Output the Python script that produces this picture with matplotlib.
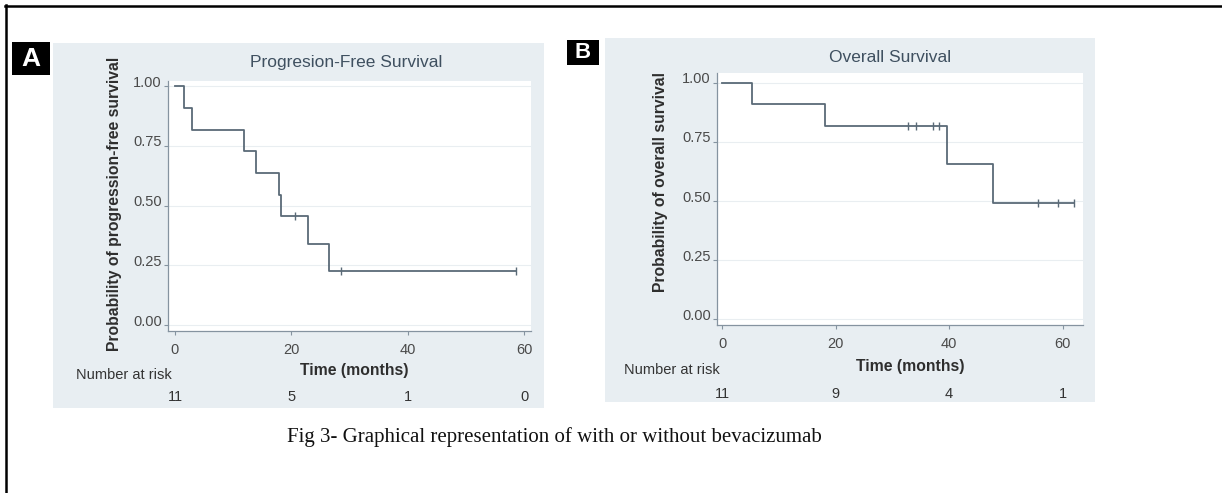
import matplotlib
matplotlib.use("Agg")
import matplotlib.pyplot as plt
from matplotlib.patches import Rectangle
from matplotlib.lines import Line2D
import matplotlib.transforms as mtransforms

# Panel A: progression-free survival, steps
pfs_times = [0, 1.6, 2.9, 11.9, 14.0, 17.8, 18.2, 22.8, 26.5, 58.7]
pfs_surv = [1.0, 0.909, 0.818, 0.727, 0.636, 0.545, 0.455, 0.341, 0.227, 0.227]
pfs_cens_t = [20.6, 28.6, 58.7]
pfs_cens_s = [0.455, 0.227, 0.227]

# Panel B: overall survival
os_times = [0, 5.2, 18.1, 39.6, 47.8, 62.1]
os_surv = [1.0, 0.909, 0.818, 0.655, 0.491, 0.491]
os_cens_t = [32.8, 34.2, 37.2, 38.3, 55.6, 59.2, 62.1]
os_cens_s = [0.818, 0.818, 0.818, 0.818, 0.491, 0.491, 0.491]

risk_times = [0, 20, 40, 60]
pfs_at_risk = [11, 5, 1, 0]
os_at_risk = [11, 9, 4, 1]

x_ticks = [0, 20, 40, 60]
y_ticks = [0, 0.25, 0.5, 0.75, 1.0]
y_ticklabels = ["0.00", "0.25", "0.50", "0.75", "1.00"]

W, H = 1222, 493
BG = "#e8eef2"
LINE = "#5a6a77"
AXC = "#8593a0"
TXT = "#4a4a4a"

plt.rcParams["font.family"] = ["Liberation Sans", "DejaVu Sans"]

fig = plt.figure(figsize=(W / 100, H / 100), dpi=100)
fig.patch.set_facecolor("white")


def fx(px):
    return px / W


def fy(py):
    return 1 - py / H


def fig_rect(x0, y0, x1, y1, **kw):
    fig.add_artist(Rectangle((fx(x0), fy(y1)), fx(x1) - fx(x0), fy(y0) - fy(y1),
                             transform=fig.transFigure, **kw))


# outer frame (top and left only, rest is cropped)
fig.add_artist(Line2D([fx(5), 1], [fy(5.5), fy(5.5)], color="black", lw=1.8, transform=fig.transFigure))
fig.add_artist(Line2D([fx(6), fx(6)], [fy(5), 0], color="black", lw=1.8, transform=fig.transFigure))


def panel(bg, box, letter, letter_size, ax_px, xlim, ylim, times, surv, ct, cs,
          title, title_xy, ylabel, ylabel_xy, xlabel_xy, nar_xy, nar_y, at_risk):
    fig_rect(*bg, facecolor=BG, edgecolor="none", zorder=0)
    fig_rect(*box, facecolor="black", edgecolor="none", zorder=1)
    fig.text(fx((box[0] + box[2]) / 2), fy((box[1] + box[3]) / 2), letter, color="white",
             fontsize=letter_size, fontweight="bold", ha="center", va="center")

    l, t, r, b = ax_px
    ax = fig.add_axes([fx(l), fy(b), fx(r) - fx(l), fy(t) - fy(b)])
    ax.set_facecolor("white")
    ax.step(times, surv, where="post", color=LINE, lw=1.3, zorder=3)
    ax.plot(ct, cs, ls="none", marker="|", ms=6, mew=1.0, color=LINE, zorder=3)
    ax.set_xlim(*xlim)
    ax.set_ylim(*ylim)
    ax.set_xticks(x_ticks)
    ax.set_yticks(y_ticks)
    ax.set_yticklabels(y_ticklabels)
    for ytk in y_ticks:
        ax.axhline(ytk, color="#e9eef1", lw=0.8, zorder=1)
    for s in ["top", "right"]:
        ax.spines[s].set_visible(False)
    for s in ["left", "bottom"]:
        ax.spines[s].set_color(AXC)
        ax.spines[s].set_linewidth(0.9)
    ax.tick_params(axis="both", direction="out", length=3, width=0.8, color=AXC,
                   labelcolor=TXT, labelsize=10.5)
    ax.tick_params(axis="y", pad=1.5)
    ax.tick_params(axis="x", pad=6)
    off = mtransforms.ScaledTranslation(0, 5 / 100, fig.dpi_scale_trans)
    for lab in ax.get_yticklabels():
        lab.set_transform(lab.get_transform() + off)

    fig.text(fx(title_xy[0]), fy(title_xy[1]), title, color="#3f5060", fontsize=12.5,
             ha="center", va="center")
    fig.text(fx(ylabel_xy[0]), fy(ylabel_xy[1]), ylabel, color="#2e2e2e", fontsize=11.3,
             fontweight="bold", rotation=90, ha="center", va="center")
    fig.text(fx(xlabel_xy[0]), fy(xlabel_xy[1]), "Time (months)", color="#2e2e2e",
             fontsize=11.3, fontweight="bold", ha="center", va="center")
    fig.text(fx(nar_xy[0]), fy(nar_xy[1]), "Number at risk", color="#333333",
             fontsize=10.5, ha="right", va="center")
    blend = mtransforms.blended_transform_factory(ax.transData, fig.transFigure)
    for rt, n in zip(risk_times, at_risk):
        ax.text(rt, fy(nar_y), str(n), transform=blend, color="#333333", fontsize=10.5,
                ha="center", va="center")
    return ax


panel(bg=(53, 43, 544, 408), box=(12, 42, 50, 75), letter="A", letter_size=19,
      ax_px=(168, 81, 531, 331), xlim=(-1.2, 61.2), ylim=(-0.025, 1.021),
      times=pfs_times, surv=pfs_surv, ct=pfs_cens_t, cs=pfs_cens_s,
      title="Progresion-Free Survival", title_xy=(346, 63),
      ylabel="Probability of progression-free survival", ylabel_xy=(115, 204),
      xlabel_xy=(354, 370), nar_xy=(172, 375), nar_y=397, at_risk=pfs_at_risk)

panel(bg=(605, 38, 1095, 402), box=(567, 40, 599, 65), letter="B", letter_size=16,
      ax_px=(717, 73, 1083, 325), xlim=(-0.9, 63.6), ylim=(-0.025, 1.042),
      times=os_times, surv=os_surv, ct=os_cens_t, cs=os_cens_s,
      title="Overall Survival", title_xy=(890, 57),
      ylabel="Probability of overall survival", ylabel_xy=(660, 182),
      xlabel_xy=(910, 367), nar_xy=(720, 370), nar_y=394, at_risk=os_at_risk)

fig.text(fx(287), fy(437), "Fig 3- Graphical representation of with or without bevacizumab",
         family=["Liberation Serif", "DejaVu Serif"], fontsize=15, color="#111111",
         ha="left", va="center")

fig.savefig("out.png", dpi=100)
